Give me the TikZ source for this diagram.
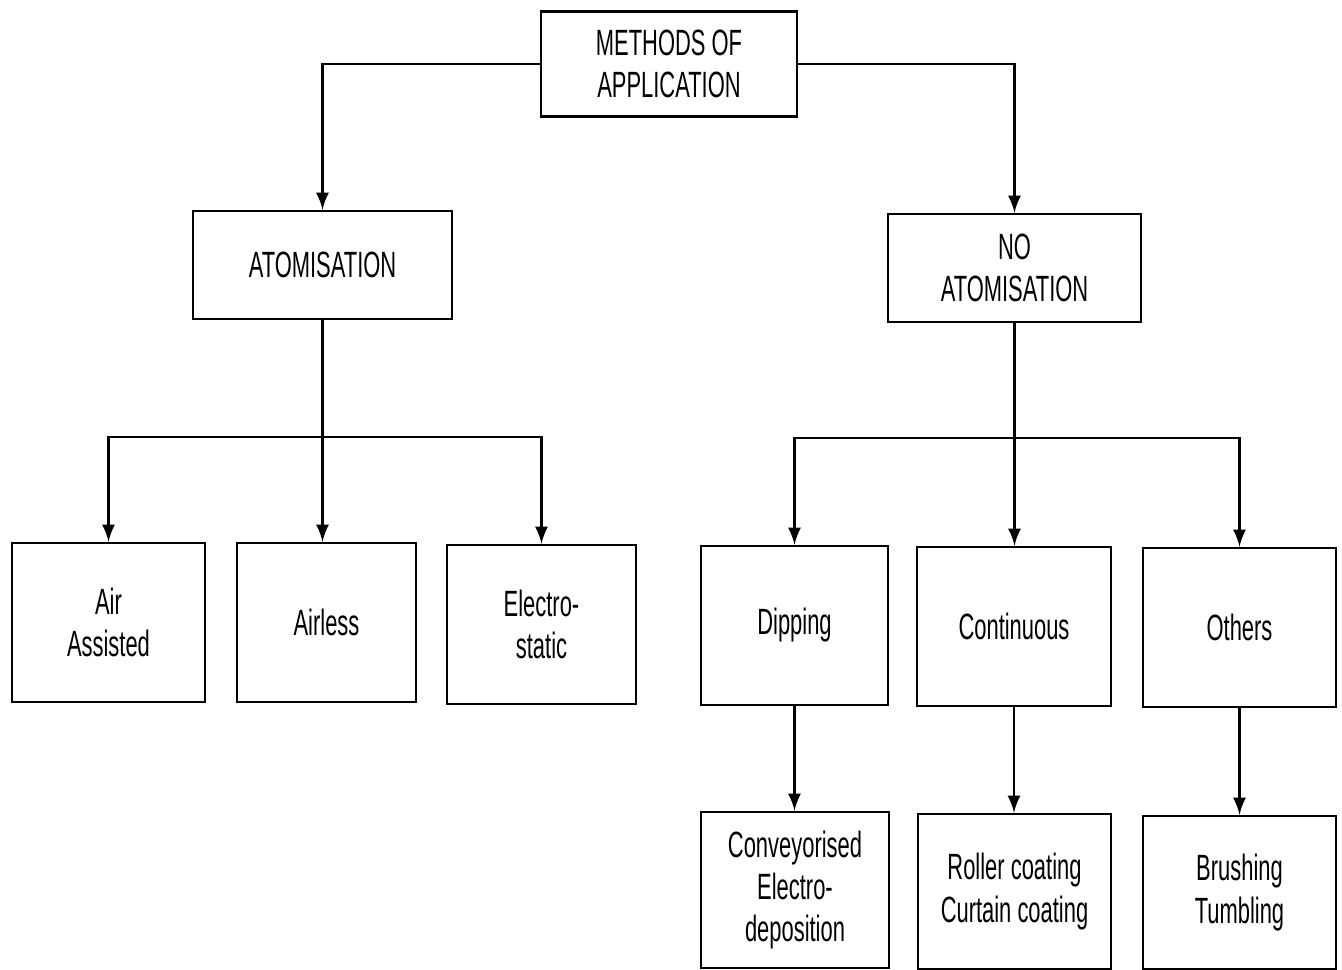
\documentclass[tikz,border=0pt]{standalone}
\usepackage{fontspec}
\setmainfont[FakeStretch=0.6]{Liberation Sans}
\usepackage{tikz}

\begin{document}
\begin{tikzpicture}[>=latex, line width=0.7pt,
	box/.style={draw, align=center, inner sep=0pt, font=\fontsize{10.4}{12}\selectfont},
	lvlone/.style={box, minimum height=1.08cm},
	leaf/.style={box, minimum height=1.59cm}]
	\useasboundingbox (0,0) rectangle (13.42,-9.70);

	\node[box, minimum width=2.56cm, minimum height=1.05cm] (meth) at (6.69,-0.64) {METHODS OF\\APPLICATION};

	\node[lvlone, minimum width=2.59cm] (atom) at (3.225,-2.65) {ATOMISATION};
	\node[lvlone, minimum width=2.53cm] (noat) at (10.145,-2.68) {NO\\ATOMISATION};

	\node[leaf, minimum width=1.93cm] (air) at (1.085,-6.225) {Air\\Assisted};
	\node[leaf, minimum width=1.79cm] (airl) at (3.265,-6.225) {Airless};
	\node[leaf, minimum width=1.89cm] (elec) at (5.415,-6.245) {Electro-\\static};

	\node[leaf, minimum width=1.87cm] (dip) at (7.945,-6.255) {Dipping};
	\node[leaf, minimum width=1.94cm] (cont) at (10.14,-6.265) {Continuous};
	\node[leaf, minimum width=1.93cm] (oth) at (12.395,-6.275) {Others};

	\node[box, minimum width=1.88cm, minimum height=1.56cm] (conv) at (7.95,-8.90) {Conveyorised\\Electro-\\deposition};
	\node[box, minimum width=1.93cm, minimum height=1.55cm] (roll) at (10.145,-8.915) {Roller coating\\Curtain coating};
	\node[box, minimum width=1.93cm, minimum height=1.53cm] (brush) at (12.395,-8.925) {Brushing\\Tumbling};

	\draw[->] (meth.west) -| (atom.north);
	\draw[->] (meth.east) -| (noat.north);

	% atomisation branch
	\coordinate (abus) at (3.225,-4.37);
	\draw[->] (atom.south) -- (atom.south |- airl.north);
	\draw[->] (abus) -| (air.north);
	\draw[->] (abus) -| (elec.north);

	% no atomisation branch
	\coordinate (nbus) at (10.145,-4.38);
	\draw[->] (noat.south) -- (noat.south |- cont.north);
	\draw[->] (nbus) -| (dip.north);
	\draw[->] (nbus) -| (oth.north);

	\draw[->] (dip.south) -- (dip.south |- conv.north);
	\draw[->] (cont.south) -- (cont.south |- roll.north);
	\draw[->] (oth.south) -- (oth.south |- brush.north);
\end{tikzpicture}
\end{document}
